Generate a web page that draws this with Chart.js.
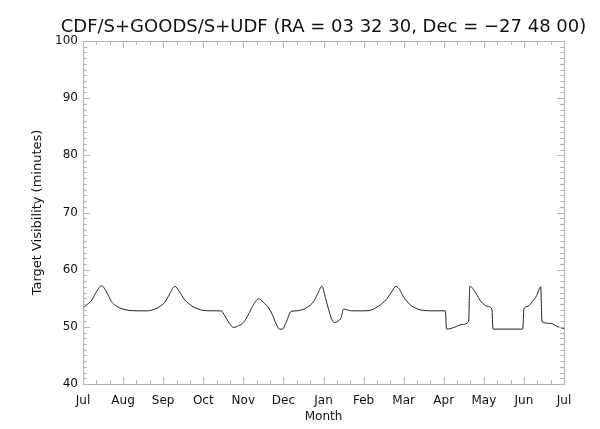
<!DOCTYPE html>
<html lang="en">
<head>
    <meta charset="UTF-8">
    <title>Target Visibility</title>
    <script src="https://cdn.jsdelivr.net/npm/chart.js"></script>
    <style>
        html, body { margin: 0; padding: 0; background: #fff; }
        #wrap { width: 600px; height: 429px; }
    </style>
</head>
<body>
<div id="wrap"><canvas id="visChart" width="600" height="429"></canvas></div>
<script>
    // tick labels, one per month boundary (x = months since 1 Jul)
    const monthLabels = ['Jul', 'Aug', 'Sep', 'Oct', 'Nov', 'Dec', 'Jan', 'Feb', 'Mar', 'Apr', 'May', 'Jun', 'Jul'];

    // visibility curve
    const monthPos = [
        0, 0.12, 0.22, 0.34, 0.46, 0.58, 0.71, 0.82, 0.92, 1.05, 1.13, 1.35, 1.63, 1.75, 1.88, 2.0, 2.08, 2.18, 2.29, 2.4, 2.54, 2.65, 2.75, 2.88, 2.98,
        3.2, 3.44, 3.55, 3.65, 3.76, 3.88, 4.0, 4.1, 4.2, 4.3, 4.38, 4.5, 4.63, 4.72, 4.82, 4.9, 4.98, 5.08, 5.19, 5.34, 5.47, 5.59, 5.75, 5.85, 5.96,
        6.05, 6.13, 6.2, 6.28, 6.36, 6.44, 6.5, 6.7, 7.0, 7.17, 7.3, 7.45, 7.59, 7.7, 7.81, 7.9, 8.0, 8.1, 8.21, 8.35, 8.46, 8.7, 9.04, 9.07,
        9.26, 9.45, 9.62, 9.65, 9.8, 9.93, 10.09, 10.2, 10.23, 10.97, 11.0, 11.1, 11.21, 11.32, 11.42, 11.45, 11.67, 11.85, 12.0
    ];
    const visMinutes = [
        53.3, 54.0, 54.7, 56.2, 57.2, 56.2, 54.4, 53.7, 53.3, 53.0, 52.9, 52.8, 52.8, 53.0, 53.4, 54.0, 54.7, 56.0, 57.1, 56.2, 54.7, 54.0, 53.5, 53.1, 52.9,
        52.8, 52.8, 51.8, 50.6, 49.9, 50.2, 50.75, 51.8, 53.2, 54.4, 54.9, 54.3, 53.3, 52.2, 50.5, 49.6, 49.6, 51.0, 52.7, 52.8, 53.0, 53.4, 54.4, 55.7, 57.1,
        55.0, 53.0, 51.4, 50.75, 51.0, 51.6, 53.1, 52.8, 52.8, 52.9, 53.3, 54.0, 55.0, 56.1, 57.1, 56.5, 55.2, 54.3, 53.6, 53.1, 52.9, 52.8, 52.8, 49.6,
        49.9, 50.4, 50.9, 57.1, 55.9, 54.4, 53.6, 53.1, 49.6, 49.6, 53.1, 53.6, 54.4, 55.5, 57.0, 50.9, 50.6, 50.0, 49.7
    ];

    const yMin = 40, yMax = 100;
    const axisGray = '#b4b4b4';

    // IDL-style frame with inward major/minor ticks on all four sides
    const framePlugin = {
        id: 'frame',
        afterLayout(chart) {
            // centre the title over the plot box, not the canvas
            const t = chart.titleBlock, a = chart.chartArea;
            const mid = (a.left + a.right) / 2;
            t.left = mid - 290;
            t.right = mid + 290;
        },
        afterDraw(chart) {
            const { ctx, chartArea: a, scales: { x, y } } = chart;
            ctx.save();
            ctx.strokeStyle = axisGray;
            ctx.lineWidth = 1;
            ctx.strokeRect(Math.round(a.left) + 0.5, Math.round(a.top) + 0.5,
                Math.round(a.right - a.left), Math.round(a.bottom - a.top));
            ctx.beginPath();
            for (let i = 0; i <= 36; i++) {
                const px = Math.round(x.getPixelForValue(i / 3)) + 0.5;
                const len = i % 3 === 0 ? 7 : 4;
                ctx.moveTo(px, a.bottom); ctx.lineTo(px, a.bottom - len);
                ctx.moveTo(px, a.top); ctx.lineTo(px, a.top + len);
            }
            for (let v = yMin; v <= yMax; v++) {
                const py = Math.round(y.getPixelForValue(v)) + 0.5;
                const len = v % 10 === 0 ? 7 : 4;
                ctx.moveTo(a.left, py); ctx.lineTo(a.left + len, py);
                ctx.moveTo(a.right, py); ctx.lineTo(a.right - len, py);
            }
            ctx.stroke();
            ctx.restore();
        }
    };

    const ctx = document.getElementById('visChart').getContext('2d');
    new Chart(ctx, {
        type: 'line',
        data: {
            datasets: [{
                label: 'Target Visibility',
                data: monthPos.map((m, i) => ({ x: m, y: visMinutes[i] })),
                borderColor: '#202020',
                borderWidth: 1,
                pointRadius: 0,
                cubicInterpolationMode: 'monotone',
                fill: false
            }]
        },
        options: {
            responsive: false,
            animation: false,
            layout: { padding: { top: 0, right: 36, bottom: 0, left: 0 } },
            plugins: {
                legend: { display: false },
                tooltip: { enabled: false },
                title: {
                    display: true,
                    text: 'CDF/S+GOODS/S+UDF (RA = 03 32 30, Dec = \u221227 48 00)',
                    color: '#111',
                    font: { family: 'DejaVu Sans', size: 18, weight: 'normal' },
                    padding: { top: 17, bottom: 2.4 },
                    align: 'center'
                }
            },
            scales: {
                x: {
                    type: 'linear',
                    min: 0,
                    max: 12,
                    afterBuildTicks: (scale) => {
                        scale.ticks = monthLabels.map((_, i) => ({ value: i }));
                    },
                    afterFit: (scale) => { scale.height = 45; },
                    ticks: {
                        autoSkip: false,
                        maxRotation: 0,
                        padding: 10,
                        color: '#111',
                        font: { family: 'DejaVu Sans', size: 12 },
                        callback: (v) => monthLabels[Math.round(v)]
                    },
                    grid: { display: false, drawTicks: false },
                    border: { display: false },
                    title: {
                        display: true,
                        text: 'Month',
                        color: '#111',
                        font: { family: 'DejaVu Sans', size: 12 },
                        padding: { top: 0, bottom: 5 }
                    }
                },
                y: {
                    min: yMin,
                    max: yMax,
                    afterFit: (scale) => { scale.width = 83; },
                    ticks: {
                        stepSize: 10,
                        padding: 5,
                        color: '#111',
                        font: { family: 'DejaVu Sans', size: 12 }
                    },
                    grid: { display: false, drawTicks: false },
                    border: { display: false },
                    title: {
                        display: true,
                        text: 'Target Visibility (minutes)',
                        color: '#111',
                        font: { family: 'DejaVu Sans', size: 13 },
                        padding: { top: 30, bottom: 0 }
                    }
                }
            }
        },
        plugins: [framePlugin]
    });
</script>
</body>
</html>
